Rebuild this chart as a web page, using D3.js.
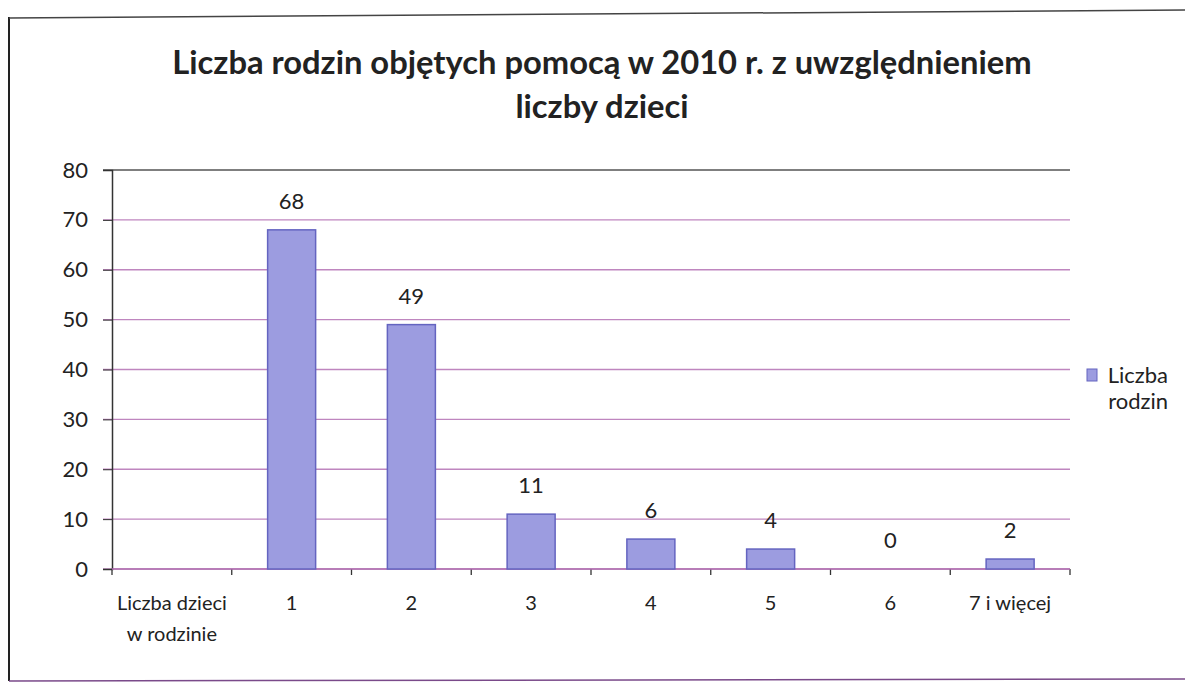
<!DOCTYPE html>
<html>
<head>
<meta charset="utf-8">
<script src="https://cdn.jsdelivr.net/npm/d3@7"></script>
<style>
  html, body { margin: 0; padding: 0; background: #fff; }
  svg { display: block; }
</style>
</head>
<body>
<svg id="chart" width="1185" height="684"></svg>
<script>
// ---- data ----
const categories = ["Liczba dzieci\nw rodzinie", "1", "2", "3", "4", "5", "6", "7 i więcej"];
const values = [null, 68, 49, 11, 6, 4, 0, 2];
const yTicks = [0, 10, 20, 30, 40, 50, 60, 70, 80];
const titleLines = ["Liczba rodzin objętych pomocą w 2010 r. z uwzględnieniem", "liczby dzieci"];
const legendLines = ["Liczba", "rodzin"];

const svg = d3.select("#chart");
const font = "Lato, 'Open Sans', 'DejaVu Sans', sans-serif";

// frame
svg.append("line").attr("x1", 9).attr("x2", 9).attr("y1", 17).attr("y2", 681)
  .attr("stroke", "#222").attr("stroke-width", 2);
svg.append("line").attr("x1", 9).attr("x2", 1185).attr("y1", 18).attr("y2", 10)
  .attr("stroke", "#444").attr("stroke-width", 1.5);
svg.append("line").attr("x1", 9).attr("x2", 1185).attr("y1", 681).attr("y2", 679)
  .attr("stroke", "#7a4a8a").attr("stroke-width", 1.5);

// title
const title = svg.append("text").attr("text-anchor", "middle")
  .attr("font-family", font).attr("font-weight", "bold").attr("fill", "#222");
titleLines.forEach((t, i) => {
  title.append("tspan").attr("x", 602).attr("y", 74 + i * 44).text(t);
});
// fit title width
title.attr("font-size", 30);
const w0 = title.select("tspan").node().getComputedTextLength();
title.attr("font-size", 30 * 860 / w0);

// scales
const x0 = 112, x1 = 1070, yTop = 170, yBot = 569;
const x = d3.scaleBand().domain(categories).range([x0, x1]).paddingInner(0).paddingOuter(0);
const y = d3.scaleLinear().domain([0, 80]).range([yBot, yTop]);

// gridlines
const grid = svg.append("g");
grid.selectAll("line").data(yTicks).join("line")
  .attr("x1", x0 - 9).attr("x2", x1)
  .attr("y1", d => y(d)).attr("y2", d => y(d))
  .attr("stroke", d => d === 80 ? "#555" : "#bf86bf")
  .attr("stroke-width", 1.3);

// y axis
const yAxis = svg.append("g").attr("transform", `translate(${x0},0)`)
  .call(d3.axisLeft(y).tickValues(yTicks).tickSize(9).tickPadding(15));
yAxis.select(".domain").attr("stroke", "#333").attr("stroke-width", 1.5);
yAxis.selectAll(".tick line").attr("stroke", "#333");
yAxis.selectAll(".tick text").attr("font-family", font).attr("font-size", 22).attr("fill", "#222");

// x axis ticks (between categories)
const bounds = categories.map(c => x(c)).concat([x1]);
svg.append("g").selectAll("line").data(bounds).join("line")
  .attr("x1", d => d).attr("x2", d => d)
  .attr("y1", yBot).attr("y2", yBot + 6)
  .attr("stroke", "#333").attr("stroke-width", 1.3);
svg.append("line").attr("x1", x0).attr("x2", x1).attr("y1", yBot).attr("y2", yBot)
  .attr("stroke", "#b070b0").attr("stroke-width", 1.5);

// x labels
const xl = svg.append("g");
categories.forEach(c => {
  const t = xl.append("text").attr("text-anchor", "middle")
    .attr("font-family", font).attr("font-size", 20).attr("fill", "#222");
  c.split("\n").forEach((line, i) => {
    t.append("tspan").attr("x", x(c) + x.bandwidth() / 2).attr("y", 610 + i * 31).text(line);
  });
});

// bars
const barW = 48;
const data = categories.map((c, i) => ({ c, v: values[i] })).filter(d => d.v !== null);
svg.append("g").selectAll("rect").data(data).join("rect")
  .attr("x", d => x(d.c) + x.bandwidth() / 2 - barW / 2)
  .attr("width", barW)
  .attr("y", d => y(d.v))
  .attr("height", d => y(0) - y(d.v))
  .attr("fill", "#9c9ce0")
  .attr("stroke", "#6464c0")
  .attr("stroke-width", 1.5);

// value labels
svg.append("g").selectAll("text").data(data).join("text")
  .attr("x", d => x(d.c) + x.bandwidth() / 2)
  .attr("y", d => y(d.v) - 21)
  .attr("text-anchor", "middle")
  .attr("font-family", font).attr("font-size", 22).attr("fill", "#222")
  .text(d => d.v);

// legend
svg.append("rect").attr("x", 1087).attr("y", 369).attr("width", 10).attr("height", 12)
  .attr("fill", "#9c9ce0").attr("stroke", "#6464c0");
const lg = svg.append("text").attr("text-anchor", "end")
  .attr("font-family", font).attr("font-size", 22).attr("fill", "#222");
legendLines.forEach((t, i) => {
  lg.append("tspan").attr("x", 1168).attr("y", 383 + i * 26).text(t);
});
</script>
</body>
</html>
